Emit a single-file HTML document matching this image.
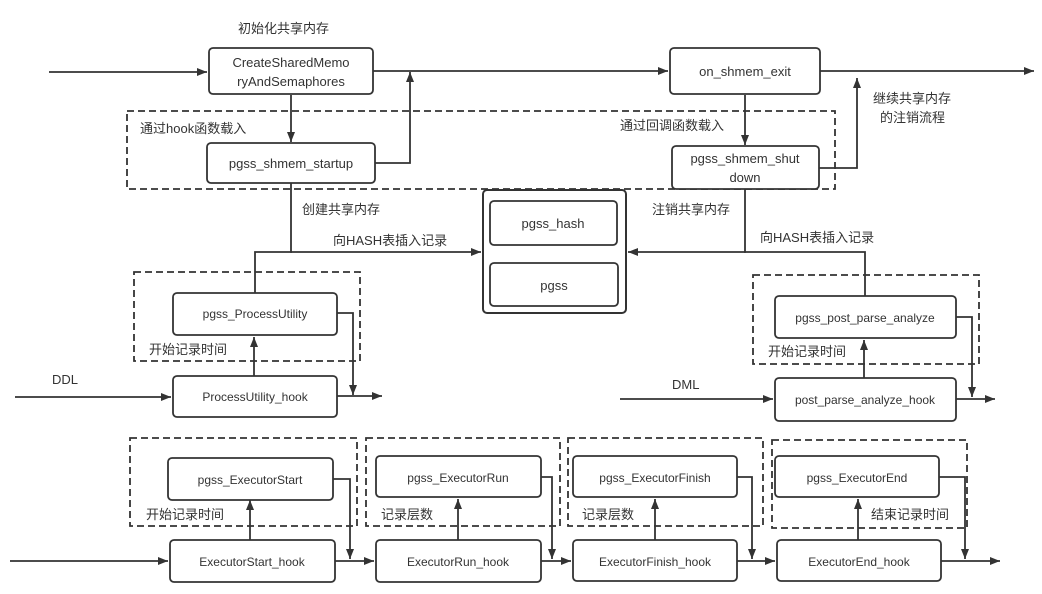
<!DOCTYPE html>
<html><head><meta charset="utf-8"><style>
html,body{margin:0;padding:0;background:#fff;}
svg{display:block;}
text{font-family:"Liberation Sans","Noto Sans CJK SC",sans-serif;fill:#333;}
</style></head><body>
<svg width="1042" height="594" viewBox="0 0 1042 594" xmlns="http://www.w3.org/2000/svg">
<defs>
<marker id="a" viewBox="0 0 10 10" refX="10" refY="5" markerWidth="10" markerHeight="10" orient="auto" markerUnits="userSpaceOnUse"><path d="M0,1 L10,5 L0,9 z" fill="#333"/></marker>
</defs>
<g fill="none" stroke="#333" stroke-width="1.8" stroke-dasharray="7,4">
<rect x="127" y="111" width="708" height="78"/>
<rect x="134" y="272" width="226" height="89"/>
<rect x="753" y="275" width="226" height="89"/>
<rect x="130" y="438" width="227" height="88"/>
<rect x="366" y="438" width="194" height="88"/>
<rect x="568" y="438" width="195" height="88"/>
<rect x="772" y="440" width="195" height="88"/>
</g>
<g fill="#fff" stroke="#333" stroke-width="1.8">
<rect x="209" y="48" width="164" height="46" rx="4"/>
<rect x="670" y="48" width="150" height="46" rx="4"/>
<rect x="207" y="143" width="168" height="40" rx="4"/>
<rect x="672" y="146" width="147" height="43" rx="4"/>
<rect x="483" y="190" width="143" height="123" rx="4" stroke-width="2"/>
<rect x="490" y="201" width="127" height="44" rx="4"/>
<rect x="490" y="263" width="128" height="43" rx="4"/>
<rect x="173" y="293" width="164" height="42" rx="4"/>
<rect x="173" y="376" width="164" height="41" rx="4"/>
<rect x="775" y="296" width="181" height="42" rx="4"/>
<rect x="775" y="378" width="181" height="43" rx="4"/>
<rect x="168" y="458" width="165" height="42" rx="4"/>
<rect x="170" y="540" width="165" height="42" rx="4"/>
<rect x="376" y="456" width="165" height="41" rx="4"/>
<rect x="376" y="540" width="165" height="42" rx="4"/>
<rect x="573" y="456" width="164" height="41" rx="4"/>
<rect x="573" y="540" width="164" height="41" rx="4"/>
<rect x="775" y="456" width="164" height="41" rx="4"/>
<rect x="777" y="540" width="164" height="41" rx="4"/>
</g>
<g fill="none" stroke="#333" stroke-width="1.8">
<path d="M49,72 H207" marker-end="url(#a)"/>
<path d="M373,71 H668" marker-end="url(#a)"/>
<path d="M820,71 H1034" marker-end="url(#a)"/>
<path d="M291,95 V142" marker-end="url(#a)"/>
<path d="M375,163 H410 V72" marker-end="url(#a)"/>
<path d="M745,95 V145" marker-end="url(#a)"/>
<path d="M819,168 H857 V78" marker-end="url(#a)"/>
<path d="M291,183 V252 H481" marker-end="url(#a)"/>
<path d="M255,293 V252 H292"/>
<path d="M745,189 V252 H628" marker-end="url(#a)"/>
<path d="M865,296 V252 H744"/>
<path d="M15,397 H171" marker-end="url(#a)"/>
<path d="M254,376 V337" marker-end="url(#a)"/>
<path d="M337,313 H353 V395" marker-end="url(#a)"/>
<path d="M337,396 H382" marker-end="url(#a)"/>
<path d="M620,399 H773" marker-end="url(#a)"/>
<path d="M864,378 V340" marker-end="url(#a)"/>
<path d="M956,317 H972 V397" marker-end="url(#a)"/>
<path d="M956,399 H995" marker-end="url(#a)"/>
<path d="M250,540 V500" marker-end="url(#a)"/>
<path d="M458,540 V499" marker-end="url(#a)"/>
<path d="M655,540 V499" marker-end="url(#a)"/>
<path d="M858,540 V499" marker-end="url(#a)"/>
<path d="M333,479 H350 V559" marker-end="url(#a)"/>
<path d="M541,477 H552 V559" marker-end="url(#a)"/>
<path d="M737,477 H752 V559" marker-end="url(#a)"/>
<path d="M939,477 H965 V559" marker-end="url(#a)"/>
<path d="M10,561 H168" marker-end="url(#a)"/>
<path d="M335,561 H374" marker-end="url(#a)"/>
<path d="M541,561 H571" marker-end="url(#a)"/>
<path d="M737,561 H775" marker-end="url(#a)"/>
<path d="M941,561 H1000" marker-end="url(#a)"/>
</g>
<g font-size="13" text-anchor="middle">
<text x="291" y="67">CreateSharedMemo</text>
<text x="291" y="86">ryAndSemaphores</text>
<text x="745" y="76">on_shmem_exit</text>
<text x="291" y="168">pgss_shmem_startup</text>
<text x="745" y="163">pgss_shmem_shut</text>
<text x="745" y="182">down</text>
<text x="553" y="228">pgss_hash</text>
<text x="554" y="290">pgss</text>
<text x="255" y="318" font-size="12">pgss_ProcessUtility</text>
<text x="255" y="401" font-size="12">ProcessUtility_hook</text>
<text x="865" y="322" font-size="12">pgss_post_parse_analyze</text>
<text x="865" y="404" font-size="12">post_parse_analyze_hook</text>
<text x="250" y="484" font-size="12">pgss_ExecutorStart</text>
<text x="252" y="566" font-size="12">ExecutorStart_hook</text>
<text x="458" y="482" font-size="12">pgss_ExecutorRun</text>
<text x="458" y="566" font-size="12">ExecutorRun_hook</text>
<text x="655" y="482" font-size="12">pgss_ExecutorFinish</text>
<text x="655" y="566" font-size="12">ExecutorFinish_hook</text>
<text x="857" y="482" font-size="12">pgss_ExecutorEnd</text>
<text x="859" y="566" font-size="12">ExecutorEnd_hook</text>
</g>
<g font-size="13">
<text x="238" y="33">初始化共享内存</text>
<text x="140" y="133">通过hook函数载入</text>
<text x="620" y="130">通过回调函数载入</text>
<text x="873" y="103">继续共享内存</text>
<text x="880" y="122">的注销流程</text>
<text x="302" y="214">创建共享内存</text>
<text x="333" y="245">向HASH表插入记录</text>
<text x="652" y="214">注销共享内存</text>
<text x="760" y="242">向HASH表插入记录</text>
<text x="149" y="354">开始记录时间</text>
<text x="52" y="384">DDL</text>
<text x="768" y="356">开始记录时间</text>
<text x="672" y="389">DML</text>
<text x="146" y="519">开始记录时间</text>
<text x="381" y="519">记录层数</text>
<text x="582" y="519">记录层数</text>
<text x="871" y="519">结束记录时间</text>
</g>
</svg>
</body></html>
